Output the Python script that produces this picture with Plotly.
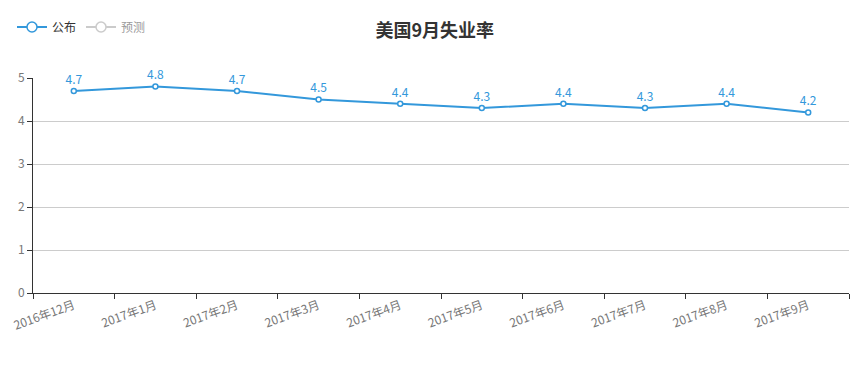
import plotly.graph_objects as go

categories = ["2016年12月", "2017年1月", "2017年2月", "2017年3月", "2017年4月",
              "2017年5月", "2017年6月", "2017年7月", "2017年8月", "2017年9月"]
published = [4.7, 4.8, 4.7, 4.5, 4.4, 4.3, 4.4, 4.3, 4.4, 4.2]
forecast = [None] * len(categories)

FONT = "Noto Sans CJK SC, Microsoft YaHei, sans-serif"
BLUE = "#3398DB"

fig = go.Figure()
fig.add_trace(go.Scatter(
    x=categories, y=published, name="公布", mode="lines+markers+text",
    line=dict(color=BLUE, width=2),
    marker=dict(symbol="circle", size=5, color="white", line=dict(color=BLUE, width=1.5)),
    text=[str(v) for v in published], textposition="top center",
    textfont=dict(color=BLUE, size=12, family=FONT),
    cliponaxis=False, showlegend=False, legendgroup="pub",
))
# legend entries (larger symbols, like the reference legend)
fig.add_trace(go.Scatter(
    x=[None], y=[None], name="公布", mode="lines+markers", legendgroup="pub",
    line=dict(color=BLUE, width=2),
    marker=dict(symbol="circle", size=10, color="white", line=dict(color=BLUE, width=1.5)),
))
fig.add_trace(go.Scatter(
    x=categories, y=forecast, name="预测", mode="lines+markers",
    line=dict(color="#999", width=2),
    marker=dict(symbol="circle", size=10, color="white", line=dict(color="#999", width=1.5)),
    visible="legendonly",
))

fig.update_layout(
    width=861, height=371,
    margin=dict(l=33, r=12, t=78, b=78),
    paper_bgcolor="white", plot_bgcolor="white",
    font=dict(family=FONT, size=12, color="#333"),
    title=dict(text="<b>美国9月失业率</b>", x=0.505, xanchor="center", y=1 - 31 / 371, yanchor="middle",
               font=dict(size=18, color="#333", family=FONT)),
    legend=dict(orientation="h", x=12 / 861, xref="container", y=1 - 27 / 371, xanchor="left",
                yanchor="middle", yref="container", font=dict(size=12, color="#333"),
                itemwidth=30, bgcolor="rgba(0,0,0,0)", tracegroupgap=0),
    showlegend=True,
)
fig.update_xaxes(
    type="category", range=[-0.5, 9.5], showgrid=False,
    showline=True, linecolor="#333", linewidth=1,
    ticks="outside", tickson="boundaries", ticklen=5, tickcolor="#333",
    tickangle=-20, tickfont=dict(size=12, color="#777", family=FONT),
    zeroline=False, fixedrange=True, automargin=False,
)
fig.update_yaxes(
    range=[0, 5], dtick=1, showgrid=True, gridcolor="#ccc", gridwidth=1,
    showline=True, linecolor="#333", linewidth=1,
    ticks="outside", ticklen=5, tickcolor="#333",
    tickfont=dict(size=12, color="#777", family=FONT),
    zeroline=False, fixedrange=True, automargin=False,
)

fig.write_html("out.html", config={"displayModeBar": False},
               post_script="document.body.style.margin='0';")
